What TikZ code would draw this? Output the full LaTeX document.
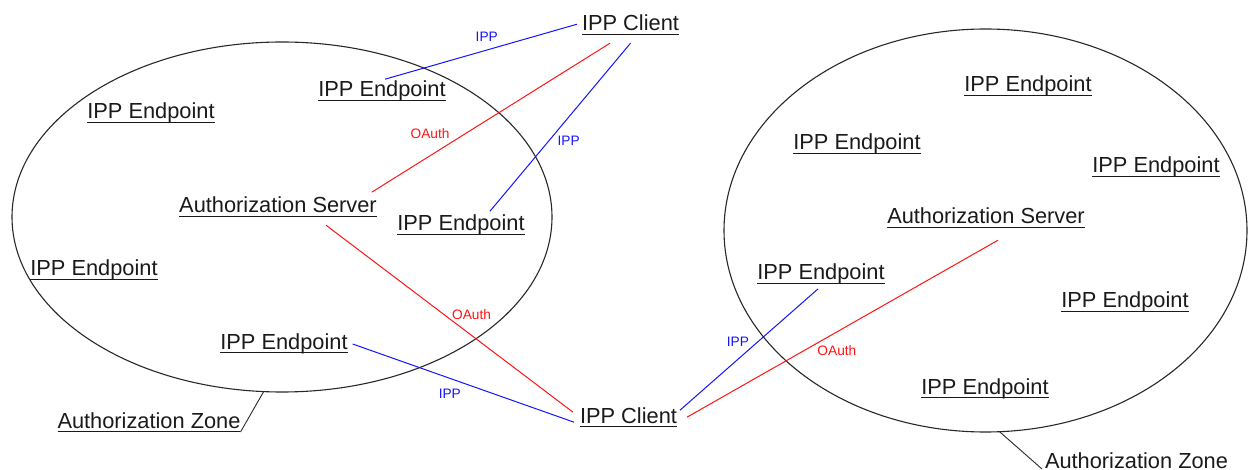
\documentclass[tikz,border=0pt]{standalone}
\usepackage{fontspec}
\setmainfont{Liberation Sans}
\usetikzlibrary{calc,shapes.geometric}

\definecolor{ink}{RGB}{26,26,26}
\definecolor{zoneline}{RGB}{40,40,40}
\definecolor{ippblue}{RGB}{20,20,255}
\definecolor{oauthred}{RGB}{255,20,20}

\tikzset{
  ent/.style={anchor=base, inner sep=0pt, outer sep=0pt, text=ink,
    font=\fontsize{21.8}{26}\selectfont},
  uline/.style={draw=ink, line width=1.2pt},
  zone/.style={ellipse, draw=zoneline, line width=1.1pt, inner sep=0pt, outer sep=0pt},
  pointer/.style={draw=zoneline, line width=0.9pt},
  ipp/.style={draw=ippblue, line width=1pt},
  oauth/.style={draw=oauthred, line width=1pt},
  lab/.style={inner sep=0pt, font=\fontsize{13.7}{16}\selectfont},
  ipplab/.style={lab, text=ippblue},
  oauthlab/.style={lab, text=oauthred},
}

\begin{document}
\begin{tikzpicture}[x=1pt, y=-1pt]
\useasboundingbox (0,0) rectangle (1248,470);

% the two authorization zones
\node[zone, minimum width=540pt, minimum height=350pt] (zoneL) at (282,217) {};
\node[zone, minimum width=523pt, minimum height=403pt] (zoneR) at (985.5,230.5) {};

% clients
\node[ent] (cT) at (630.5,31) {IPP Client};
\node[ent] (cB) at (628.5,423) {IPP Client};

% left zone
\node[ent] (e1) at (382,97) {IPP Endpoint};
\node[ent] (e2) at (151,119) {IPP Endpoint};
\node[ent] (asL) at (278,213) {Authorization Server};
\node[ent] (e3) at (461,231) {IPP Endpoint};
\node[ent] (e4) at (94,276) {IPP Endpoint};
\node[ent] (e5) at (284,349) {IPP Endpoint};
\node[ent] (zL) at (149,428) {Authorization Zone};

% right zone
\node[ent] (f1) at (1028,92) {IPP Endpoint};
\node[ent] (f2) at (857,150) {IPP Endpoint};
\node[ent] (f3) at (1156,173) {IPP Endpoint};
\node[ent] (asR) at (986,224) {Authorization Server};
\node[ent] (f4) at (821,280) {IPP Endpoint};
\node[ent] (f5) at (1125,308) {IPP Endpoint};
\node[ent] (f6) at (985,394) {IPP Endpoint};
\node[ent] (zR) at (1136.5,468) {Authorization Zone};

% underlined entity names
\foreach \n in {cT,cB,e1,e2,asL,e3,e4,e5,zL,f1,f2,f3,asR,f4,f5,f6}
  \draw[uline] ($(\n.base west)+(0,3.5)$) -- ($(\n.base east)+(0,3.5)$);

% zone callouts
\draw[pointer] (zL.base east) ++(0,4) -- (zoneL.264.5);
\draw[pointer] (zoneR.274.4) -- ($(zR.base west)+(-3,1)$);

% connections of the upper client
\draw[ipp] ($(cT.west)+(-5,1)$) -- node[ipplab, pos=0.47, yshift=12.8pt] (l1) {IPP} ($(e1.north)+(3,-2)$);
\draw[oauth] ($(cT.south)+(-20.5,12)$) -- node[oauthlab, pos=0.604, xshift=-36pt] (l2) {OAuth} ($(asL.north east)+(-5,-5)$);
\draw[ipp] ($(cT.south)+(0,12)$) -- node[ipplab, pos=0.583, xshift=20pt] (l3) {IPP} ($(e3.north)+(29,-4)$);

% connections of the lower client
\draw[oauth] ($(asL.south)+(48,12)$) -- node[oauthlab, pos=0.476, xshift=28pt] (l4) {OAuth} ($(cB.west)+(-7,-3)$);
\draw[ipp] ($(e5.base east)+(5,-5)$) -- node[ipplab, pos=0.439, yshift=-15.8pt] (l5) {IPP} ($(cB.west)+(-6,7)$);
\draw[ipp] ($(cB.east)+(3,-5)$) -- node[ipplab, pos=0.42, yshift=17pt] (l6) {IPP} ($(f4.south)+(-3,4.4)$);
\draw[oauth] ($(cB.east)+(10,2)$) -- node[oauthlab, pos=0.482, yshift=-19pt] (l7) {OAuth} ($(asR.south)+(12,16)$);
\end{tikzpicture}
\end{document}
